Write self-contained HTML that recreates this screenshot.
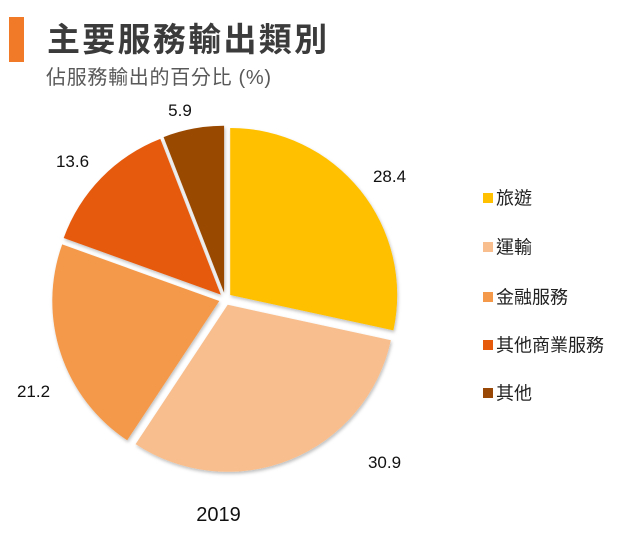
<!DOCTYPE html>
<html>
<head>
<meta charset="utf-8">
<style>
html,body{margin:0;padding:0;background:#fff;}
svg{display:block;}
</style>
</head>
<body>
<svg width="630" height="543" viewBox="0 0 630 543" xmlns="http://www.w3.org/2000/svg">
  <defs>
    <filter id="sh" x="-10%" y="-10%" width="120%" height="120%">
      <feDropShadow dx="1" dy="2" stdDeviation="1.5" flood-color="#000" flood-opacity="0.25"/>
    </filter>
  </defs>
  <rect x="0" y="0" width="630" height="543" fill="#fff"/>
  <!-- title -->
  <rect x="9" y="17" width="15" height="45" fill="#F07A28"/>
  <text x="47" y="51" font-family="'Liberation Sans','Noto Sans CJK TC',sans-serif" font-size="33" font-weight="bold" letter-spacing="2.3" fill="#3b3b3b">主要服務輸出類別</text>
  <text x="46" y="84" font-family="'Liberation Sans','Noto Sans CJK TC',sans-serif" font-size="20" letter-spacing="0.7" fill="#595959">佔服務輸出的百分比 (%)</text>

  <!-- pie -->
  <g filter="url(#sh)">
    <path d="M230.2,295 L230.2,128 A167,167 0 0 1 393.4,330.4 Z" fill="#FFC000"/>
    <path d="M227.7,304.8 L390.9,340.2 A167,167 0 0 1 135.6,444.1 Z" fill="#F8BE8D"/>
    <path d="M219.3,301 L127.2,440.3 A167,167 0 0 1 62.2,244.4 Z" fill="#F4994A"/>
    <path d="M220.8,294.6 L63.7,238 A167,167 0 0 1 160.3,138.9 Z" fill="#E65A0C"/>
    <path d="M224.1,292.8 L163.6,137.1 A167,167 0 0 1 224.1,125.8 Z" fill="#9A4806"/>
  </g>

  <!-- labels -->
  <g font-family="'Liberation Sans',sans-serif" font-size="17" fill="#111" text-anchor="middle">
    <text x="180" y="116">5.9</text>
    <text x="72.5" y="167">13.6</text>
    <text x="389.5" y="182">28.4</text>
    <text x="33.5" y="397">21.2</text>
    <text x="384.5" y="468">30.9</text>
    <text x="218.5" y="521" font-size="20">2019</text>
  </g>

  <!-- legend -->
  <g font-family="'Liberation Sans','Noto Sans CJK TC',sans-serif" font-size="18" fill="#222">
    <rect x="483" y="193" width="10" height="10" fill="#FFC000"/>
    <text x="496" y="204.5">旅遊</text>
    <rect x="483" y="242" width="10" height="10" fill="#F8BE8D"/>
    <text x="496" y="253.5">運輸</text>
    <rect x="483" y="292" width="10" height="10" fill="#F4994A"/>
    <text x="496" y="303.5">金融服務</text>
    <rect x="483" y="340" width="10" height="10" fill="#E65A0C"/>
    <text x="496" y="351.5">其他商業服務</text>
    <rect x="483" y="388" width="10" height="10" fill="#9A4806"/>
    <text x="496" y="399.5">其他</text>
  </g>
</svg>
</body>
</html>
